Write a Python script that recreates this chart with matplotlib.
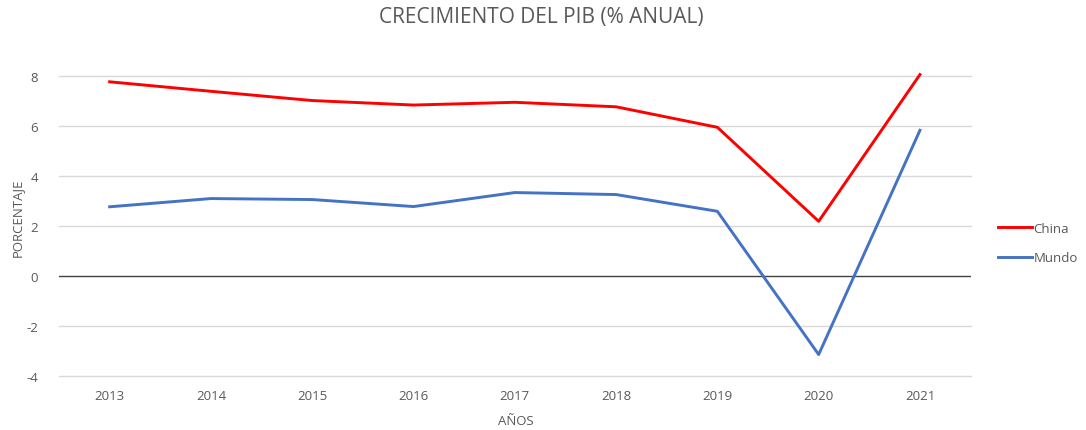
import matplotlib
matplotlib.use("Agg")
import matplotlib.pyplot as plt

years = ["2013", "2014", "2015", "2016", "2017", "2018", "2019", "2020", "2021"]
china = [7.78, 7.40, 7.03, 6.85, 6.96, 6.78, 5.96, 2.20, 8.07]
mundo = [2.78, 3.11, 3.07, 2.79, 3.35, 3.27, 2.60, -3.13, 5.84]
yticks = [-4, -2, 0, 2, 4, 6, 8]

FONT = ["Open Sans", "DejaVu Sans"]
GRAY = "#595959"

fig = plt.figure(figsize=(10.86, 4.31), dpi=100)
ax = fig.add_axes([59 / 1086, 1 - 377.3 / 431, (970.6 - 59) / 1086, 300 / 431])

x = list(range(len(years)))
ax.set_xlim(-0.5, len(years) - 0.5)
ax.set_ylim(-4, 8)

for yv in yticks:
    if yv != 0:
        ax.axhline(yv, color="#d9d9d9", lw=1.0, zorder=0, clip_on=False)
ax.axhline(0, color="#404040", lw=1.0, zorder=1)

l1, = ax.plot(x, china, color="#ff0000", lw=2.1, label="China", clip_on=False, zorder=3)
l2, = ax.plot(x, mundo, color="#4472c4", lw=2.1, label="Mundo", clip_on=False, zorder=3)

for s in ax.spines.values():
    s.set_visible(False)

ax.set_xticks(x)
ax.set_xticklabels(years, fontfamily=FONT, fontsize=9.5, color=GRAY)
ax.set_yticks(yticks)
ax.set_yticklabels([str(v) for v in yticks], fontfamily=FONT, fontsize=9.5, color=GRAY)
ax.tick_params(axis="both", length=0)
ax.tick_params(axis="x", pad=9)
ax.tick_params(axis="y", pad=15)

fig.text(516 / 1086, 1 - 422 / 431, "AÑOS", ha="center", va="center",
         fontfamily=FONT, fontsize=9.5, color=GRAY)
fig.text(17 / 1086, 1 - 218 / 431, "PORCENTAJE", ha="center", va="center", rotation=90,
         fontfamily=FONT, fontsize=9.5, color=GRAY)

fig.text(541 / 1086, 1 - 17 / 431, "CRECIMIENTO DEL PIB (% ANUAL)", ha="center", va="center",
         fontfamily=FONT, fontsize=15, color=GRAY)

leg = fig.legend(handles=[l1, l2], loc="center left", bbox_to_anchor=(986 / 1086, 1 - 244 / 431),
                 frameon=False, prop={"family": FONT, "size": 9.5}, handlelength=2.6,
                 handletextpad=0.1, labelspacing=1.25)
for t in leg.get_texts():
    t.set_color(GRAY)

fig.savefig("out.png", dpi=100)
